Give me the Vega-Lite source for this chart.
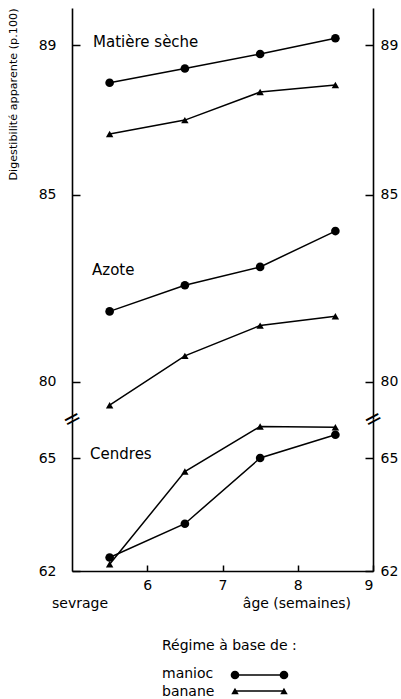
{
  "$schema": "https://vega.github.io/schema/vega-lite/v6.json",
  "background": "white",
  "padding": {"top": 7, "left": 7, "right": 0, "bottom": 0},
  "spacing": 0,
  "bounds": "flush",
  "config": {
    "view": {"stroke": null},
    "font": "DejaVu Sans",
    "axis": {
      "grid": false,
      "domainColor": "black",
      "domainWidth": 1.6,
      "tickColor": "black",
      "tickWidth": 1.5,
      "labelColor": "black",
      "labelFont": "DejaVu Sans",
      "labelFontSize": 14,
      "titleColor": "black",
      "titleFont": "DejaVu Sans",
      "titleFontWeight": "normal"
    }
  },
  "datasets": {
    "obs": [
      {"component": "Matière sèche", "regime": "manioc", "age": 5.5, "val": 88.0},
      {"component": "Matière sèche", "regime": "manioc", "age": 6.5, "val": 88.38},
      {"component": "Matière sèche", "regime": "manioc", "age": 7.5, "val": 88.77},
      {"component": "Matière sèche", "regime": "manioc", "age": 8.5, "val": 89.19},
      {"component": "Matière sèche", "regime": "banane", "age": 5.5, "val": 86.63},
      {"component": "Matière sèche", "regime": "banane", "age": 6.5, "val": 87.0},
      {"component": "Matière sèche", "regime": "banane", "age": 7.5, "val": 87.75},
      {"component": "Matière sèche", "regime": "banane", "age": 8.5, "val": 87.94},
      {"component": "Azote", "regime": "manioc", "age": 5.5, "val": 81.88},
      {"component": "Azote", "regime": "manioc", "age": 6.5, "val": 82.58},
      {"component": "Azote", "regime": "manioc", "age": 7.5, "val": 83.07},
      {"component": "Azote", "regime": "manioc", "age": 8.5, "val": 84.03},
      {"component": "Azote", "regime": "banane", "age": 5.5, "val": 79.37},
      {"component": "Azote", "regime": "banane", "age": 6.5, "val": 80.69},
      {"component": "Azote", "regime": "banane", "age": 7.5, "val": 81.5},
      {"component": "Azote", "regime": "banane", "age": 8.5, "val": 81.75},
      {"component": "Cendres", "regime": "manioc", "age": 5.5, "val": 62.36},
      {"component": "Cendres", "regime": "manioc", "age": 6.5, "val": 63.26},
      {"component": "Cendres", "regime": "manioc", "age": 7.5, "val": 65.01},
      {"component": "Cendres", "regime": "manioc", "age": 8.5, "val": 65.63},
      {"component": "Cendres", "regime": "banane", "age": 5.5, "val": 62.18},
      {"component": "Cendres", "regime": "banane", "age": 6.5, "val": 64.65},
      {"component": "Cendres", "regime": "banane", "age": 7.5, "val": 65.85},
      {"component": "Cendres", "regime": "banane", "age": 8.5, "val": 65.83}
    ],
    "labels": [
      {"panel": "haut", "age": 5.28, "val": 89.08, "text": "Matière sèche"},
      {"panel": "haut", "age": 5.266, "val": 83.0, "text": "Azote"},
      {"panel": "bas", "age": 5.24, "val": 65.13, "text": "Cendres"}
    ],
    "breaks": [
      {"age": 5, "val": 79},
      {"age": 9, "val": 79}
    ],
    "notes": [
      {"lx": 4.734, "ly": 33, "text": "sevrage"},
      {"lx": 7.27, "ly": 33, "text": "âge  (semaines)"},
      {"lx": 6.196, "ly": 75, "text": "Régime à base de :"},
      {"lx": 6.196, "ly": 103, "text": "manioc"},
      {"lx": 6.196, "ly": 121, "text": "banane"}
    ],
    "keys": [
      {"regime": "manioc", "lx": 7.166, "ly": 104},
      {"regime": "manioc", "lx": 7.817, "ly": 104},
      {"regime": "banane", "lx": 7.166, "ly": 120},
      {"regime": "banane", "lx": 7.817, "ly": 120}
    ]
  },
  "vconcat": [
    {
      "width": 301,
      "height": 411,
      "layer": [
        {
          "data": {"name": "obs"},
          "transform": [{"filter": "datum.component != 'Cendres'"}],
          "mark": {"type": "line", "color": "black", "strokeWidth": 1.5},
          "encoding": {
            "x": {"field": "age", "type": "quantitative", "scale": {"domain": [5, 9], "nice": false, "zero": false}, "axis": null},
            "y": {"field": "val", "type": "quantitative", "scale": {"domain": [79, 90], "nice": false, "zero": false},
              "axis": {"orient": "left", "values": [80, 85, 89], "tickSize": -8, "labelPadding": 24,
                "title": "Digestibilité apparente (p.100)", "titleFontSize": 11.2, "titleAnchor": "end", "titlePadding": 20}},
            "detail": [{"field": "component"}, {"field": "regime"}]
          }
        },
        {
          "data": {"name": "obs"},
          "transform": [{"filter": "datum.component != 'Cendres'"}],
          "mark": {"type": "point", "filled": true, "color": "black", "opacity": 1},
          "encoding": {
            "x": {"field": "age", "type": "quantitative", "axis": null},
            "y": {"field": "val", "type": "quantitative",
              "axis": {"orient": "right", "values": [80, 85, 89], "tickSize": -8, "labelPadding": 15, "title": null}},
            "shape": {"field": "regime", "type": "nominal", "scale": {"domain": ["manioc", "banane"], "range": ["circle", "triangle-up"]}, "legend": null},
            "size": {"field": "regime", "type": "nominal", "scale": {"domain": ["manioc", "banane"], "range": [75, 55]}, "legend": null}
          }
        },
        {
          "data": {"name": "labels"},
          "transform": [{"filter": "datum.panel == 'haut'"}],
          "mark": {"type": "text", "align": "left", "baseline": "middle", "fontSize": 15, "color": "black"},
          "encoding": {
            "x": {"field": "age", "type": "quantitative", "axis": null},
            "y": {"field": "val", "type": "quantitative", "axis": null},
            "text": {"field": "text"}
          }
        },
        {
          "data": {"name": "breaks"},
          "mark": {"type": "text", "align": "center", "baseline": "middle", "fontSize": 22, "angle": -28, "color": "black", "text": "="},
          "encoding": {
            "x": {"field": "age", "type": "quantitative", "axis": null},
            "y": {"field": "val", "type": "quantitative", "axis": null}
          }
        }
      ],
      "resolve": {"axis": {"y": "independent"}}
    },
    {
      "width": 301,
      "height": 152,
      "layer": [
        {
          "data": {"name": "obs"},
          "transform": [{"filter": "datum.component == 'Cendres'"}],
          "mark": {"type": "line", "color": "black", "strokeWidth": 1.5},
          "encoding": {
            "x": {"field": "age", "type": "quantitative", "scale": {"domain": [5, 9], "nice": false, "zero": false},
              "axis": {"orient": "bottom", "values": [6, 7, 8, 9], "format": "d", "tickSize": -6, "labelPadding": 13, "title": null}},
            "y": {"field": "val", "type": "quantitative", "scale": {"domain": [62, 66.05], "nice": false, "zero": false},
              "axis": {"orient": "left", "values": [62, 65], "tickSize": -8, "labelPadding": 24, "title": null}},
            "detail": [{"field": "regime"}]
          }
        },
        {
          "data": {"name": "obs"},
          "transform": [{"filter": "datum.component == 'Cendres'"}],
          "mark": {"type": "point", "filled": true, "color": "black", "opacity": 1},
          "encoding": {
            "x": {"field": "age", "type": "quantitative"},
            "y": {"field": "val", "type": "quantitative",
              "axis": {"orient": "right", "values": [62, 65], "tickSize": -8, "labelPadding": 15, "title": null}},
            "shape": {"field": "regime", "type": "nominal", "scale": {"domain": ["manioc", "banane"], "range": ["circle", "triangle-up"]}, "legend": null},
            "size": {"field": "regime", "type": "nominal", "scale": {"domain": ["manioc", "banane"], "range": [75, 55]}, "legend": null}
          }
        },
        {
          "data": {"name": "labels"},
          "transform": [{"filter": "datum.panel == 'bas'"}],
          "mark": {"type": "text", "align": "left", "baseline": "middle", "fontSize": 15, "color": "black"},
          "encoding": {
            "x": {"field": "age", "type": "quantitative"},
            "y": {"field": "val", "type": "quantitative", "axis": null},
            "text": {"field": "text"}
          }
        }
      ],
      "resolve": {"axis": {"y": "independent"}}
    },
    {
      "width": 301,
      "height": 129,
      "layer": [
        {
          "data": {"name": "notes"},
          "mark": {"type": "text", "align": "left", "baseline": "middle", "fontSize": 14, "color": "black"},
          "encoding": {
            "x": {"field": "lx", "type": "quantitative", "scale": {"domain": [5, 9], "nice": false, "zero": false}, "axis": null},
            "y": {"field": "ly", "type": "quantitative", "scale": {"domain": [0, 129], "reverse": true, "nice": false, "zero": false}, "axis": null},
            "text": {"field": "text"}
          }
        },
        {
          "data": {"name": "keys"},
          "mark": {"type": "line", "color": "black", "strokeWidth": 1.5},
          "encoding": {
            "x": {"field": "lx", "type": "quantitative", "axis": null},
            "y": {"field": "ly", "type": "quantitative", "axis": null},
            "detail": {"field": "regime"}
          }
        },
        {
          "data": {"name": "keys"},
          "mark": {"type": "point", "filled": true, "color": "black", "opacity": 1},
          "encoding": {
            "x": {"field": "lx", "type": "quantitative", "axis": null},
            "y": {"field": "ly", "type": "quantitative", "axis": null},
            "shape": {"field": "regime", "type": "nominal", "scale": {"domain": ["manioc", "banane"], "range": ["circle", "triangle-up"]}, "legend": null},
            "size": {"field": "regime", "type": "nominal", "scale": {"domain": ["manioc", "banane"], "range": [75, 55]}, "legend": null}
          }
        }
      ]
    }
  ]
}
